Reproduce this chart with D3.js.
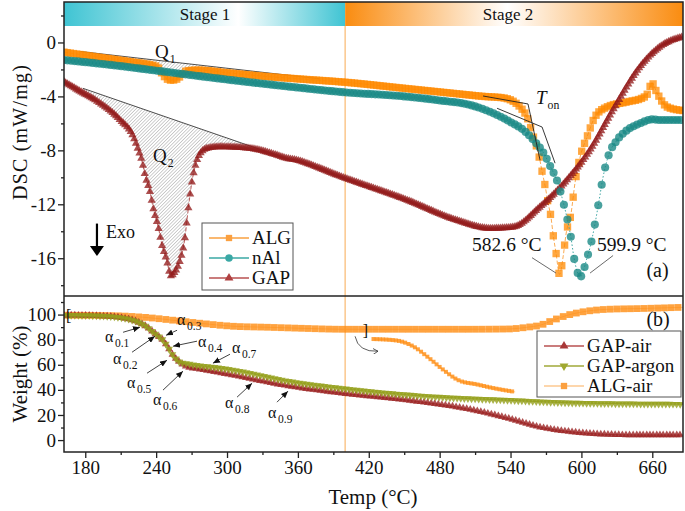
<!DOCTYPE html>
<html>
<head>
<meta charset="utf-8">
<script src="https://cdn.jsdelivr.net/npm/d3@7"></script>
<style>
body{margin:0;background:#fff}
text{font-family:"Liberation Serif","Times New Roman",serif;fill:#111}
</style>
</head>
<body>
<svg id="chart" width="685" height="511" font-family="Liberation Serif, serif"></svg>
<script>
"use strict"

// DSC (mW/mg)
var algT = [162,180,200,220,235,241,245,249,253,258,262,266,275,300,330,360,400,450,500,517,534,548,555,559,562.6,565,567,569.2,571.8,574.3,576,578.5,581.5,584.5,587,591.2,594.6,598.9,604.8,611.6,621.7,638.6,652,656,659.7,664,672.5,686];
var algV = [-0.72,-0.95,-1.2,-1.45,-1.65,-1.8,-2.3,-2.7,-2.8,-2.7,-2.35,-2.1,-2.05,-2.25,-2.5,-2.7,-2.95,-3.4,-3.85,-4.0,-4.11,-4.78,-5.75,-6.9,-7.9,-8.8,-9.7,-10.6,-11.9,-13.0,-14.2,-15.6,-17.2,-15.9,-14.2,-12.7,-10.4,-8.5,-7.0,-5.5,-4.78,-4.41,-4.1,-3.8,-3.0,-3.74,-4.78,-5.05];
var nalT = [162,200,250,300,350,400,450,480,506,523,540,551,561,568,574,580,583.6,587.8,591.2,593.8,596.5,598.9,601.5,604,607.3,611.6,615,618.3,622.5,630.2,638.7,649.7,659.9,666.7,686];
var nalV = [-1.3,-1.65,-2.2,-2.75,-3.25,-3.7,-4.0,-4.3,-4.64,-5.16,-5.9,-6.5,-7.4,-8.2,-9.25,-10.4,-11.5,-13.0,-14.5,-16.0,-17.0,-17.4,-17.0,-16.2,-15.2,-13.4,-11.7,-10.0,-8.5,-7.24,-6.5,-6.0,-5.7,-5.75,-5.75];
var gapT = [162,175,192.5,209.4,220.7,224.9,227.8,230.6,234.8,237.6,241.8,244.7,249,252.5,256,260.2,264.4,266.4,268.1,270.1,272.9,275.7,282.8,294.1,319.5,340,350.5,360,367.5,392.9,452.4,494.7,522.6,542,564.9,587.8,607.3,626.8,649.6,666.6,686];
var gapV = [-2.92,-3.6,-4.51,-5.75,-7.0,-7.98,-8.73,-9.84,-11.09,-12.32,-13.69,-14.93,-16.17,-17.3,-17.0,-16.17,-14.46,-12.95,-11.7,-10.44,-9.23,-8.48,-7.86,-7.74,-7.86,-8.3,-8.6,-8.75,-8.97,-9.84,-11.7,-13.2,-13.79,-13.7,-12.2,-10.2,-7.98,-5.0,-1.81,-0.32,0.42];

// TG weight (%)
var gapAirT = [162,190,210,222,232.3,240.7,245.8,250,254.3,260.2,266.1,275,305,347.4,398.2,452.4,508.3,537,565,592.9,621.7,650,686];
var gapAirV = [99.5,99,97.5,95,90,83.5,79.6,74,67.6,62,58.3,56.8,51.7,43.8,37.2,31.8,23.9,17.5,10.3,6.4,4.5,4.0,4.0];
var gapArT = [162,190,210,222,232.3,240.7,245.8,250,254.3,260.2,266.1,275,291.5,319.5,347.4,398.2,480.3,537,592.9,686];
var gapArV = [99.5,99,97.5,95,90,83.5,79.6,74,67.6,62,61,59.5,57.8,53.3,47.7,41.1,34.2,31.8,29.6,28.6];
var algAirT = [162,200,228.9,254.3,277.1,305,333.9,361.8,398.2,450,500,537,554,565,576,587.8,598.9,621.7,649.6,686];
var algAirV = [99.5,99.2,97.9,95.5,93.1,90.7,89.9,89.1,88.3,88.3,88.3,88.5,89.9,91.5,95.5,99.4,101.8,104.2,104.8,105.8];

// ticks
var xTicks = [180,240,300,360,420,480,540,600,660];
var xMinor = [210,270,330,390,450,510,570,630];
var dscTicks = [0,-4,-8,-12,-16];
var dscMinor = [2,-2,-6,-10,-14,-18];
var wTicks = [0,20,40,60,80,100];
var wMinor = [10,30,50,70,90,110];

// conversion stages (alpha) : label, text pos [T,w], arrow from [T,w] to [T,w]
var alphaNotes = [
  ["0.1",[196.7,78.5],[212,85.9],[226.3,89.9]],
  ["0.3",[257.7,91.5],[257.7,87.5],[248.4,83.5]],
  ["0.2",[203.5,60.5],[219.6,70],[239,82.7]],
  ["0.4",[275.4,74],[274.6,78.8],[254.3,74.8]],
  ["0.7",[304.2,69.2],[302.5,68.4],[288.1,61.3]],
  ["0.5",[215.3,41.4],[232.3,53.3],[249.2,63.6]],
  ["0.6",[237.3,27.8],[245.8,39.8],[262.7,54.9]],
  ["0.8",[298.3,25.5],[308.5,34.2],[321.2,45.3]],
  ["0.9",[334.7,17.5],[342.3,30.2],[351.6,39]]
];

var svg = d3.select("#chart");
var x = d3.scaleLinear().domain([162,686]).range([64,683]);
var yTop = d3.scaleLinear().domain([-18.8,3]).range([296,2]);
var yBot = d3.scaleLinear().domain([-9.5,114.8]).range([452,296]);

var defs = svg.append("defs");
function grad(id, c, mid){
  var g = defs.append("linearGradient").attr("id",id).attr("x1","0%").attr("x2","100%");
  g.append("stop").attr("offset","0%").attr("stop-color",c);
  g.append("stop").attr("offset",mid).attr("stop-color","#ffffff");
  g.append("stop").attr("offset","100%").attr("stop-color",c);
}
grad("st1","#3fc4d3","62%");
grad("st2","#fa8c10","48%");

var pat = defs.append("pattern").attr("id","hatch").attr("width",2.4).attr("height",2.4)
  .attr("patternUnits","userSpaceOnUse").attr("patternTransform","rotate(45)");
pat.append("line").attr("x1",0).attr("y1",0).attr("x2",0).attr("y2",2.4)
  .attr("stroke","#8a8a8a").attr("stroke-width",0.8);

defs.append("clipPath").attr("id","clipTop").append("rect").attr("x",64).attr("y",26).attr("width",619).attr("height",270);
defs.append("clipPath").attr("id","clipBot").append("rect").attr("x",64).attr("y",296).attr("width",619).attr("height",156);

defs.append("marker").attr("id","arr").attr("markerWidth",7).attr("markerHeight",6)
  .attr("refX",7).attr("refY",3).attr("orient","auto").attr("markerUnits","userSpaceOnUse")
  .append("path").attr("d","M0,0L7,3L0,6Z").attr("fill","#111");
defs.append("marker").attr("id","arrOpen").attr("markerWidth",6).attr("markerHeight",6)
  .attr("refX",5).attr("refY",3).attr("orient","auto").attr("markerUnits","userSpaceOnUse")
  .append("path").attr("d","M0,0L5,3L0,6").attr("fill","none").attr("stroke","#333").attr("stroke-width",0.8);

// stage bars
svg.append("rect").attr("x",x(162)).attr("y",2).attr("width",x(400)-x(162)).attr("height",24).attr("fill","url(#st1)");
svg.append("rect").attr("x",x(400)).attr("y",2).attr("width",x(686)-x(400)).attr("height",24).attr("fill","url(#st2)");
svg.append("text").attr("x",205).attr("y",20).attr("text-anchor","middle").attr("font-size",17).text("Stage 1");
svg.append("text").attr("x",508).attr("y",20).attr("text-anchor","middle").attr("font-size",17).text("Stage 2");
svg.append("line").attr("x1",x(400)).attr("x2",x(400)).attr("y1",26).attr("y2",452)
  .attr("stroke","#fbc78c").attr("stroke-width",1.5);

function sampleAlong(node, step){
  var L = node.getTotalLength(), pts = [], nextX = -Infinity;
  for (var l = 0; l <= L; l += 0.4){
    var p = node.getPointAtLength(l);
    if (p.x >= nextX){ pts.push([p.x,p.y]); nextX = p.x + step; }
  }
  return pts;
}

function drawSeries(g, xs, ys, yS, o){
  var line = d3.line().curve(d3.curveMonotoneX).x(function(d){return x(d[0]);}).y(function(d){return yS(d[1]);});
  var data = xs.map(function(t,i){return [t, ys[i]];});
  var path = g.append("path").attr("d", line(data)).attr("fill","none")
    .attr("stroke",o.line).attr("stroke-width",0.9).attr("stroke-dasharray",o.dash);
  var pts = sampleAlong(path.node(), o.step);
  var sym = d3.symbol().type(o.shape).size(o.size)();
  g.append("g").selectAll("path").data(pts).enter().append("path")
    .attr("transform",function(d){return "translate("+d[0]+","+d[1]+")"+(o.flip?" rotate(180)":"");})
    .attr("d",sym).attr("fill",o.color).attr("fill-opacity",o.op);
  return path;
}

function hatchArea(g, curve, a, b, yS){
  var pts = sampleAlong(curve.node(), 1).filter(function(p){return p[0]>=x(a[0]) && p[0]<=x(b[0]);});
  var poly = [[x(a[0]),yS(a[1])],[x(b[0]),yS(b[1])]].concat(pts.reverse());
  g.append("path").attr("d","M"+poly.join("L")+"Z").attr("fill","url(#hatch)");
  g.append("line").attr("x1",x(a[0])).attr("y1",yS(a[1])).attr("x2",x(b[0])).attr("y2",yS(b[1]))
    .attr("stroke","#222").attr("stroke-width",0.8);
}

// top panel
var gTop = svg.append("g").attr("clip-path","url(#clipTop)");
var gHatch = gTop.append("g");
var algPath = drawSeries(gTop, algT, algV, yTop, {line:"#f9a040",dash:"4,2",step:2.8,shape:d3.symbolSquare,size:54,color:"#ff8a00",op:0.75});
var gapPath = drawSeries(gTop, gapT, gapV, yTop, {line:"#b04848",dash:"4,2",step:1.7,shape:d3.symbolTriangle,size:29,color:"#931c1c",op:0.78});
drawSeries(gTop, nalT, nalV, yTop, {line:"#2a9d9a",dash:"1.5,2",step:3.4,shape:d3.symbolCircle,size:52,color:"#1a8a86",op:0.8});
hatchArea(gHatch, algPath, [175.8,-0.67], [378.8,-2.7], yTop);
hatchArea(gHatch, gapPath, [178,-3.4], [353.4,-8.7], yTop);

// onset tangents
var tan = d3.line().x(function(d){return x(d[0]);}).y(function(d){return yTop(d[1]);});
svg.append("path").attr("d",tan([[516.7,-3.97],[554.8,-4.56],[565,-8.73]])).attr("fill","none").attr("stroke","#222").attr("stroke-width",0.9);
svg.append("path").attr("d",tan([[528.6,-4.88],[566.7,-6.27],[577.7,-8.95]])).attr("fill","none").attr("stroke","#222").attr("stroke-width",0.9);

// bottom panel
var gBot = svg.append("g").attr("clip-path","url(#clipBot)");
drawSeries(gBot, algAirT, algAirV, yBot, {line:"#fcc890",dash:null,step:6.4,shape:d3.symbolSquare,size:46,color:"#ff8c10",op:0.8});
drawSeries(gBot, gapAirT, gapAirV, yBot, {line:"#b04848",dash:null,step:3.2,shape:d3.symbolTriangle,size:26,color:"#9c2424",op:0.8});
drawSeries(gBot, gapArT, gapArV, yBot, {line:"#9aa030",dash:null,step:3.2,shape:d3.symbolTriangle,size:26,color:"#95a01c",op:0.8,flip:true});

// magnified inset of ALG-air first segment
var xIn = d3.scaleLinear().domain([162,416]).range([x(424),x(553)]);
var yIn = d3.scaleLinear().domain([99.5,88.3]).range([yBot(80.5),yBot(38.4)]);
var inLine = d3.line().curve(d3.curveMonotoneX).x(function(d){return xIn(d[0]);}).y(function(d){return yIn(d[1]);});
var inData = algAirT.map(function(t,i){return [t,algAirV[i]];}).filter(function(d){return d[0]<=416;});
var inPath = svg.append("path").attr("d",inLine(inData)).attr("fill","none").attr("stroke","#fcc890").attr("stroke-width",0.8);
svg.append("g").selectAll("path").data(sampleAlong(inPath.node(),3)).enter().append("path")
  .attr("transform",function(d){return "translate("+d[0]+","+d[1]+")";})
  .attr("d",d3.symbol().type(d3.symbolSquare).size(16)()).attr("fill","#ff8c10").attr("fill-opacity",0.8);
svg.append("path").attr("d","M"+x(408.4)+","+yBot(82.7)+"Q"+x(411)+","+yBot(70)+" "+x(427.8)+","+yBot(70.8))
  .attr("fill","none").attr("stroke","#333").attr("stroke-width",0.8).attr("marker-end","url(#arrOpen)");

// frame
svg.append("rect").attr("x",64).attr("y",2).attr("width",619).attr("height",450).attr("fill","none").attr("stroke","#222").attr("stroke-width",1.5);
svg.append("line").attr("x1",64).attr("x2",683).attr("y1",296).attr("y2",296).attr("stroke","#222").attr("stroke-width",1.5);
svg.append("text").attr("x",x(162)+2).attr("y",yBot(95)).attr("font-size",16).text("[");
svg.append("text").attr("x",x(415)).attr("y",yBot(83)).attr("font-size",16).text("]");

// axes
function styleAxis(g){
  g.select(".domain").remove();
  g.attr("font-family","Liberation Serif").attr("font-size",19);
  g.selectAll("line").attr("stroke","#222").attr("stroke-width",1.3);
  g.selectAll("text").attr("fill","#111");
}
svg.append("g").attr("transform","translate(0,452)").call(d3.axisBottom(x).tickValues(xTicks).tickSize(6).tickPadding(3).tickFormat(function(d){return String(d);})).call(styleAxis);
svg.append("g").attr("transform","translate(0,452)").call(d3.axisBottom(x).tickValues(xMinor).tickSize(3).tickFormat("")).call(styleAxis);
svg.append("g").attr("transform","translate(64,0)").call(d3.axisLeft(yTop).tickValues(dscTicks).tickSize(6).tickPadding(2).tickFormat(function(d){return String(d);})).call(styleAxis);
svg.append("g").attr("transform","translate(64,0)").call(d3.axisLeft(yTop).tickValues(dscMinor).tickSize(3).tickFormat("")).call(styleAxis);
svg.append("g").attr("transform","translate(64,0)").call(d3.axisLeft(yBot).tickValues(wTicks).tickSize(6).tickPadding(2).tickFormat(function(d){return String(d);})).call(styleAxis);
svg.append("g").attr("transform","translate(64,0)").call(d3.axisLeft(yBot).tickValues(wMinor).tickSize(3).tickFormat("")).call(styleAxis);

svg.append("text").attr("x",373).attr("y",504).attr("text-anchor","middle").attr("font-size",21).text("Temp (°C)");
svg.append("text").attr("transform","translate(27,132) rotate(-90)").attr("text-anchor","middle").attr("font-size",20).attr("letter-spacing",1.2).text("DSC (mW/mg)");
svg.append("text").attr("transform","translate(27,374) rotate(-90)").attr("text-anchor","middle").attr("font-size",21).text("Weight (%)");

// annotations top panel
function sub(g, tx, ty, main, s, fs, italic){
  var t = g.append("text").attr("x",tx).attr("y",ty).attr("font-size",fs).text(main);
  if (italic) t.attr("font-style","italic");
  var w = t.node().getComputedTextLength();
  g.append("text").attr("x",tx+w+1).attr("y",ty+5).attr("font-size",fs*0.62).text(s);
}
sub(svg, x(239), yTop(-1.14), "Q", "1", 19);
sub(svg, x(237.3), yTop(-8.88), "Q", "2", 19);
sub(svg, x(561.6), yTop(-4.56), "T", "on", 19, true);
svg.append("text").attr("x",x(507.4)).attr("y",yTop(-15.43)).attr("font-size",19.5).text("582.6 °C");
svg.append("text").attr("x",x(613.2)).attr("y",yTop(-15.43)).attr("font-size",19.5).text("599.9 °C");
svg.append("line").attr("x1",x(558.2)).attr("y1",yTop(-15.96)).attr("x2",x(578.5)).attr("y2",yTop(-17.1)).attr("stroke","#444").attr("stroke-width",0.8);
svg.append("line").attr("x1",x(626.8)).attr("y1",yTop(-15.8)).attr("x2",x(607.3)).attr("y2",yTop(-17.1)).attr("stroke","#444").attr("stroke-width",0.8);
svg.append("text").attr("x",x(655)).attr("y",yTop(-17.4)).attr("font-size",20).text("(a)");
svg.append("text").attr("x",x(655)).attr("y",yBot(90.7)).attr("font-size",20).text("(b)");

// exo arrow
svg.append("line").attr("x1",x(189.9)).attr("x2",x(189.9)).attr("y1",yTop(-13.43)).attr("y2",yTop(-15.2)).attr("stroke","#000").attr("stroke-width",2.2);
svg.append("path").attr("d","M"+(x(189.9)-7)+","+yTop(-15.1)+"L"+(x(189.9)+7)+","+yTop(-15.1)+"L"+x(189.9)+","+(yTop(-15.1)+10)+"Z").attr("fill","#000");
svg.append("text").attr("x",x(197.6)).attr("y",yTop(-14.5)).attr("font-size",18).text("Exo");

// alpha notes
alphaNotes.forEach(function(a){
  svg.append("text").attr("x",x(a[1][0])).attr("y",yBot(a[1][1])).attr("font-family","Liberation Sans").attr("font-size",16).text("α");
  svg.append("text").attr("x",x(a[1][0])+10).attr("y",yBot(a[1][1])+5).attr("font-family","Liberation Sans").attr("font-size",11.5).text(a[0]);
  svg.append("line").attr("x1",x(a[2][0])).attr("y1",yBot(a[2][1])).attr("x2",x(a[3][0])).attr("y2",yBot(a[3][1]))
    .attr("stroke","#111").attr("stroke-width",0.8).attr("marker-end","url(#arr)");
});

// legends
function legend(x0, y0, w, h, items){
  var g = svg.append("g");
  g.append("rect").attr("x",x0).attr("y",y0).attr("width",w).attr("height",h).attr("fill","#fff").attr("stroke","#555").attr("stroke-width",1);
  items.forEach(function(it,i){
    var cy = y0 + 15 + i*20;
    g.append("line").attr("x1",x0+7).attr("x2",x0+47).attr("y1",cy).attr("y2",cy).attr("stroke",it.line).attr("stroke-width",1.3);
    g.append("path").attr("transform","translate("+(x0+27)+","+cy+")"+(it.flip?" rotate(180)":""))
      .attr("d",d3.symbol().type(it.shape).size(it.size)()).attr("fill",it.color);
    g.append("text").attr("x",x0+50).attr("y",cy+6).attr("font-size",19).text(it.name);
  });
}
legend(202, 223, 91, 67, [
  {name:"ALG",line:"#f9a040",shape:d3.symbolSquare,size:40,color:"#fba040"},
  {name:"nAl",line:"#3aa8a5",shape:d3.symbolCircle,size:44,color:"#3aa8a5"},
  {name:"GAP",line:"#b85050",shape:d3.symbolTriangle,size:34,color:"#b04040"}
]);
legend(537, 331, 144, 66, [
  {name:"GAP-air",line:"#b85050",shape:d3.symbolTriangle,size:34,color:"#a83838"},
  {name:"GAP-argon",line:"#a0a838",shape:d3.symbolTriangle,size:34,color:"#a0a830",flip:true},
  {name:"ALG-air",line:"#fcc890",shape:d3.symbolSquare,size:40,color:"#fba040"}
]);
</script>
</body>
</html>
